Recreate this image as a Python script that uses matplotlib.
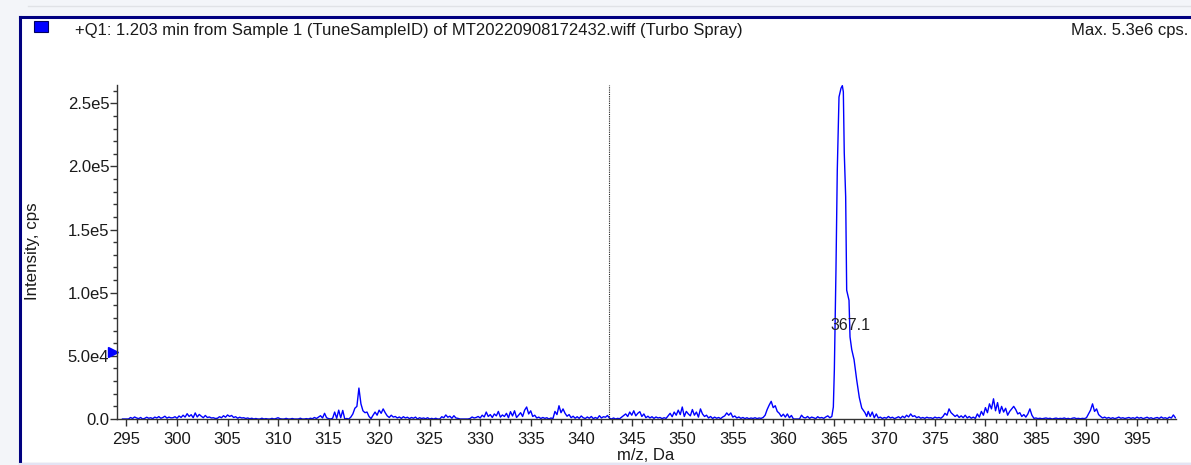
import numpy as np
import matplotlib
matplotlib.use('Agg')
import matplotlib.pyplot as plt
from matplotlib.lines import Line2D
from matplotlib.patches import Rectangle
from matplotlib.ticker import MultipleLocator, FixedLocator, FixedFormatter

plt.rcParams['font.family'] = ['Liberation Sans', 'DejaVu Sans']

# --- spectrum data (m/z in Da, intensity in kcps) ---
# baseline sampled every 0.2 Da, split in 5 Da blocks
mz_step = 0.2
baseline_start_1 = 294.6
baseline_1 = [
    # 294.6 - 299.4
    0, 0, 0, 0, 1.2, 0.4, 1.6, 0.8, 0.3, 1.2, 0, 0.5, 1.4, 0.6, 1.0, 0.3, 1.5, 0.8, 1.9, 0.6, 1.2, 2.2, 0.7, 1.5, 0.9,
    # 299.6 - 304.4
    1.0, 1.8, 0.6, 2.4, 1.2, 3.0, 1.5, 4.2, 2.0, 3.4, 1.0, 4.8, 1.6, 3.6, 2.2, 1.0, 2.8, 1.2, 1.6, 0.8, 1.0, 0.4, 0.6, 1.8, 1.0,
    # 304.6 - 309.4
    2.6, 1.4, 3.2, 2.0, 2.8, 1.2, 1.8, 0.6, 1.4, 0.8, 1.0, 0.4, 0.8, 0.2, 0.6, 0, 0.4, 0, 0, 0.6, 0, 0.3, 0, 0, 0.5,
    # 309.6 - 314.4
    0, 0.4, 1.0, 0.2, 0, 0, 0.5, 0, 0, 0.4, 0, 0, 0, 0.6, 0, 0, 0.3, 0, 0.6, 0.2, 1.2, 0.4, 1.5, 2.6, 0.8,
    # 314.6 - 319.4
    4.5, 1.0, 0.3, 0, 0.6, 5.5, 0.5, 7.0, 1.0, 6.8, 0, 0.4, 0, 1.5, 4.0, 8.5, 10.0, 24.5, 12.0, 6.5, 5.0, 5.5, 2.0, 0.3, 3.0,
    # 319.6 - 324.4
    5.5, 3.0, 7.0, 4.5, 8.0, 5.0, 2.5, 1.2, 3.0, 1.5, 2.0, 0.8, 1.6, 0.5, 1.8, 0.8, 1.4, 0.3, 1.2, 0.6, 1.5, 0, 1.0, 0.4, 0.8,
    # 324.6 - 329.4
    0.2, 1.0, 0, 0.5, 0, 0.6, 0, 0, 1.8, 1.0, 3.2, 1.4, 2.2, 0.6, 2.6, 0.8, 0.5, 0, 0, 0, 0, 0, 0.4, 1.6, 0.8,
    # 329.6 - 334.4
    1.2, 2.0, 0.8, 3.0, 1.6, 5.5, 2.0, 3.5, 1.2, 4.0, 2.5, 6.0, 1.5, 3.2, 2.0, 4.5, 1.0, 5.8, 2.4, 6.5, 1.2, 3.0, 5.0, 2.0, 7.0,
    # 334.6 - 339.4
    9.5, 4.0, 6.5, 2.0, 3.0, 0.8, 1.5, 0.4, 1.2, 0.5, 1.0, 0, 0.8, 0.3, 6.0, 3.5, 10.5, 5.0, 8.0, 4.5, 2.2, 3.5, 1.0, 2.2, 0.6,
    # 339.6 - 344.4
    1.8, 0.5, 2.4, 1.0, 0.4, 1.6, 0.6, 2.0, 0.3, 1.2, 0.4, 2.6, 0.8, 1.8, 1.4, 2.8, 0.6, 0, 0.8, 0, 0.5, 0.2, 1.5, 2.8, 4.0,
    # 344.6 - 349.4
    2.0, 5.5, 3.0, 6.5, 2.5, 4.5, 5.8, 2.0, 4.0, 1.0, 2.2, 0.8, 1.8, 0.5, 1.6, 0.8, 1.2, 0.3, 1.0, 0.5, 2.5, 4.5, 1.8, 5.5, 3.0,
    # 349.6 - 354.4
    7.0, 3.5, 9.5, 2.0, 6.0, 4.0, 2.5, 7.5, 3.0, 5.5, 1.5, 8.0, 4.0, 2.0, 3.0, 0.8, 2.0, 0.4, 1.5, 0.6, 1.2, 0.3, 1.6, 2.5, 4.8,
    # 354.6 - 359.4
    3.0, 4.8, 1.5, 2.4, 0.8, 1.6, 0.5, 1.2, 0.3, 1.0, 0.2, 0.8, 0.4, 1.0, 0.3, 0.8, 0.5, 1.2, 3.0, 7.5, 11.0, 14.0, 9.0, 10.5, 6.0,
    # 359.6 - 364.4
    4.5, 2.0, 3.8, 1.5, 4.0, 1.0, 2.8, 0, 0, 0, 0, 3.0, 1.2, 0.8, 2.0, 0.5, 1.5, 1.0, 0.3, 1.8, 0.8, 1.2, 0.5, 1.6, 2.5,
]

# main peak, read point by point
peak_mz = [364.6, 364.8, 364.95, 365.05, 365.21, 365.34, 365.51, 365.71, 365.84, 365.94,
           366.03, 366.17, 366.27, 366.5, 366.6, 366.77, 367.0, 367.26, 367.52, 367.76, 368.08, 368.25]
peak_int = [1.0, 2.0, 9.5, 39, 118, 197, 255, 262, 264, 259,
            211, 176, 102, 94, 65, 55, 47, 31, 17, 8.7, 5.0, 2.0]

baseline_start_2 = 368.4
baseline_2 = [
    # 368.4 - 369.4
    6.0, 2.0, 5.5, 1.0, 4.0, 0.8,
    # 369.6 - 374.4
    1.5, 0.4, 1.2, 0.6, 2.0, 0.8, 1.4, 0.3, 1.0, 1.8, 0.6, 2.2, 1.0, 3.0, 1.6, 4.0, 2.0, 2.6, 1.0, 1.8, 0.6, 1.2, 0.5, 1.4, 0.8,
    # 374.6 - 379.4
    1.0, 0.4, 1.5, 0.8, 1.2, 0.6, 2.0, 4.5, 3.0, 8.0, 5.0, 3.5, 2.0, 3.2, 1.2, 2.5, 1.0, 3.0, 0.8, 2.0, 0.6, 1.5, 0.4, 4.0, 1.5,
    # 379.6 - 384.4
    6.0, 3.0, 9.0, 5.0, 12.0, 8.0, 16.0, 6.5, 13.0, 4.5, 10.0, 5.5, 8.5, 3.0, 6.0, 8.0, 10.0, 7.5, 4.0, 5.0, 2.0, 3.5, 1.5, 4.0, 8.0,
    # 384.6 - 389.4
    3.0, 0.5, 0.8, 0.3, 0.6, 0.2, 0.5, 0.8, 0.3, 0.6, 0, 0.4, 0.7, 0.2, 0.5, 0.3, 0.8, 0.2, 0.5, 0, 0.6, 0.9, 0.3, 0.5, 0.2,
    # 389.6 - 394.4
    0.5, 0.3, 1.0, 4.0, 7.0, 12.0, 6.0, 8.0, 3.5, 2.0, 0.8, 1.5, 0.6, 1.2, 0.4, 1.0, 0.3, 0.8, 1.5, 0.6, 1.0, 0.4, 0.8, 1.2, 0.5,
    # 394.6 - 398.8
    1.0, 0.4, 1.5, 0.6, 1.2, 0.3, 0.8, 1.4, 0.5, 1.0, 0.2, 0.8, 1.2, 0.4, 1.6, 0.6, 1.0, 0.3, 1.5, 0.8, 3.2, 1.0,
]

marker_mz = 342.7          # dotted marker line
peak_label = '367.1'
peak_label_pos = (366.6, 74000)
ytick_values = [0, 50000, 100000, 150000, 200000, 250000]
ytick_labels = ['0.0', '5.0e4', '1.0e5', '1.5e5', '2.0e5', '2.5e5']
title_text = '+Q1: 1.203 min from Sample 1 (TuneSampleID) of MT20220908172432.wiff (Turbo Spray)'
max_text = 'Max. 5.3e6 cps.'

# assemble spectrum
mz1 = baseline_start_1 + mz_step * np.arange(len(baseline_1))
mz2 = baseline_start_2 + mz_step * np.arange(len(baseline_2))
mz = np.concatenate([mz1, peak_mz, mz2])
intensity = np.concatenate([baseline_1, peak_int, baseline_2]) * 1000.0
order = np.argsort(mz, kind='stable')
mz, intensity = mz[order], intensity[order]

W, H = 1191, 465
fig = plt.figure(figsize=(W / 100, H / 100), dpi=100, facecolor='#f3f5f9')

def fx(px):
    return px / W

def fy(py):
    return 1 - py / H

# window frame
fig.patches.append(Rectangle((fx(20), fy(462)), fx(W) - fx(20), fy(17) - fy(462),
                             transform=fig.transFigure, facecolor='white', edgecolor='none', zorder=-5))
fig.add_artist(Line2D([fx(20), fx(20)], [fy(463), fy(17)], color='#000080', lw=2.2))
fig.add_artist(Line2D([fx(20), fx(W)], [fy(17), fy(17)], color='#000080', lw=2.2))
fig.add_artist(Line2D([fx(28), fx(W)], [fy(6), fy(6)], color='#e0e2e6', lw=1))
fig.add_artist(Line2D([fx(20), fx(W)], [fy(463.5), fy(463.5)], color='#e4e4f4', lw=1.5))
fig.patches.append(Rectangle((fx(34), fy(32)), fx(14), fy(21) - fy(32),
                             transform=fig.transFigure, facecolor='#0000ff', edgecolor='#000060', lw=0.8))

fig.text(fx(75), fy(30), title_text, fontsize=11.95, color='#1a1a1a', va='center', ha='left')
fig.text(fx(1188), fy(30), max_text, fontsize=11.95, color='#1a1a1a', va='center', ha='right')

ax = fig.add_axes([fx(117), fy(419), fx(1176) - fx(117), fy(85) - fy(419)])
ax.patch.set_alpha(0)
ax.plot(mz, intensity, color='#0000ff', lw=1.0)
ax.axvline(marker_mz, color='#222222', ls=(0, (1, 1)), lw=0.8)
ax.text(peak_label_pos[0], peak_label_pos[1], peak_label, fontsize=11.5, color='#222222', ha='center', va='center')
ax.plot([-0.004], [53000], marker='>', color='#0000ff', ms=7,
        transform=ax.get_yaxis_transform(), clip_on=False)

ax.set_xlim(294.06, 398.86)
ax.set_ylim(0, 264500)
ax.xaxis.set_major_locator(MultipleLocator(5))
ax.xaxis.set_minor_locator(MultipleLocator(1))
ax.yaxis.set_major_locator(FixedLocator(ytick_values))
ax.yaxis.set_major_formatter(FixedFormatter(ytick_labels))
ax.yaxis.set_minor_locator(MultipleLocator(10000))
ax.tick_params(which='major', length=5, width=1, color='#333333', labelsize=12, labelcolor='#1a1a1a')
ax.tick_params(axis='x', which='major', pad=4)
ax.tick_params(axis='y', which='major', pad=0.5)
ax.tick_params(which='minor', length=3, width=1, color='#333333')

for s in ['top', 'right']:
    ax.spines[s].set_visible(False)
for s in ['left', 'bottom']:
    ax.spines[s].set_color('#333333')
    ax.spines[s].set_linewidth(1)

fig.text(fx(33), fy(251), 'Intensity, cps', rotation=90, fontsize=12.2, color='#1a1a1a', va='center', ha='center')
fig.text(fx(646), fy(455), 'm/z, Da', fontsize=12, color='#1a1a1a', va='center', ha='center')

fig.savefig('out.png', dpi=100, facecolor=fig.get_facecolor())
